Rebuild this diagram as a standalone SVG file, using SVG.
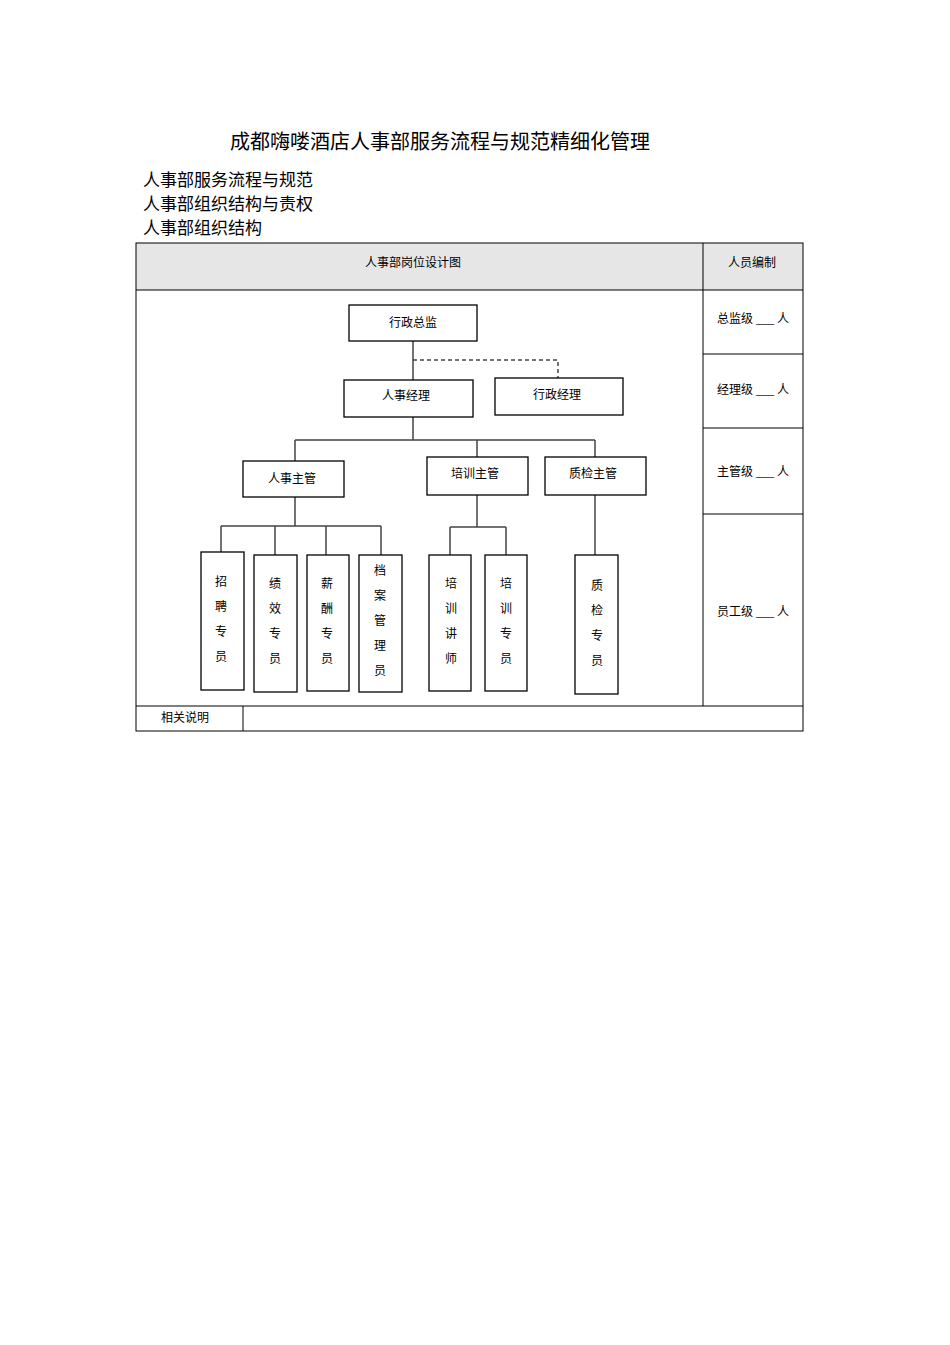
<svg xmlns="http://www.w3.org/2000/svg" width="950" height="1345" viewBox="0 0 950 1345">
<style>
text{font-family:"Liberation Serif","Noto Sans CJK SC",serif;fill:#000}
.t{font-size:12px;text-anchor:middle}
.b{fill:#fff;stroke:#000;stroke-width:1.3}
.c{fill:none;stroke:#444;stroke-width:1.5}
.g{fill:none;stroke:#000;stroke-width:1}
</style>
<rect width="950" height="1345" fill="#fff"/>
<text x="440" y="149" font-size="20" text-anchor="middle">成都嗨喽酒店人事部服务流程与规范精细化管理</text>
<text x="143" y="186" font-size="17">人事部服务流程与规范</text>
<text x="143" y="210" font-size="17">人事部组织结构与责权</text>
<text x="143" y="234" font-size="17">人事部组织结构</text>
<g id="table">
<rect x="136" y="243" width="667" height="47" fill="#e6e6e6"/>
<rect x="136" y="243" width="667" height="488" class="g"/>
<line x1="136" y1="290" x2="803" y2="290" class="g"/>
<line x1="703" y1="243" x2="703" y2="706" class="g"/>
<line x1="703" y1="354" x2="803" y2="354" class="g"/>
<line x1="703" y1="428" x2="803" y2="428" class="g"/>
<line x1="703" y1="514" x2="803" y2="514" class="g"/>
<line x1="136" y1="706" x2="803" y2="706" class="g"/>
<line x1="243" y1="706" x2="243" y2="731" class="g"/>
<text x="413" y="267" class="t">人事部岗位设计图</text>
<text x="752" y="267" class="t">人员编制</text>
<text x="753" y="323" class="t">总监级 ___ 人</text>
<text x="753" y="394" class="t">经理级 ___ 人</text>
<text x="753" y="476" class="t">主管级 ___ 人</text>
<text x="753" y="616" class="t">员工级 ___ 人</text>
<text x="185" y="722" class="t">相关说明</text>
</g>
<g id="connectors">
<path class="c" d="M413 341V440M295 440H595M295 440V461M477 440V457M595 440V457"/>
<path d="M413 360H558V378" fill="none" stroke="#444" stroke-width="1.5" stroke-dasharray="4,3"/>
<path class="c" d="M295 497V526M221 526H381M221 526V552M275 526V555M326 526V555M381 526V555"/>
<path class="c" d="M477 495V527M450 527H506M450 527V555M506 527V555"/>
<path class="c" d="M595 495V558"/>
</g>
<g id="n1"><rect class="b" x="349" y="305" width="128" height="36"/><text x="413" y="327" class="t">行政总监</text></g>
<g id="n2"><rect class="b" x="344" y="380" width="129" height="37"/><text x="406" y="400" class="t">人事经理</text></g>
<g id="n3"><rect class="b" x="495" y="378" width="128" height="37"/><text x="557" y="399" class="t">行政经理</text></g>
<g id="n4"><rect class="b" x="243" y="461" width="101" height="36"/><text x="292" y="483" class="t">人事主管</text></g>
<g id="n5"><rect class="b" x="427" y="457" width="101" height="38"/><text x="475" y="478" class="t">培训主管</text></g>
<g id="n6"><rect class="b" x="545" y="457" width="101" height="38"/><text x="593" y="478" class="t">质检主管</text></g>
<g id="n7"><rect class="b" x="201" y="552" width="43" height="138"/><text class="t" x="221"><tspan x="221" y="586">招</tspan><tspan x="221" y="611">聘</tspan><tspan x="221" y="636">专</tspan><tspan x="221" y="661">员</tspan></text></g>
<g id="n8"><rect class="b" x="254" y="555" width="43" height="137"/><text class="t"><tspan x="275" y="588">绩</tspan><tspan x="275" y="613">效</tspan><tspan x="275" y="638">专</tspan><tspan x="275" y="663">员</tspan></text></g>
<g id="n9"><rect class="b" x="307" y="555" width="42" height="136"/><text class="t"><tspan x="327" y="588">薪</tspan><tspan x="327" y="613">酬</tspan><tspan x="327" y="638">专</tspan><tspan x="327" y="663">员</tspan></text></g>
<g id="n10"><rect class="b" x="359" y="555" width="43" height="137"/><text class="t"><tspan x="380" y="575">档</tspan><tspan x="380" y="600">案</tspan><tspan x="380" y="625">管</tspan><tspan x="380" y="650">理</tspan><tspan x="380" y="675">员</tspan></text></g>
<g id="n11"><rect class="b" x="429" y="555" width="42" height="136"/><text class="t"><tspan x="451" y="588">培</tspan><tspan x="451" y="613">训</tspan><tspan x="451" y="638">讲</tspan><tspan x="451" y="663">师</tspan></text></g>
<g id="n12"><rect class="b" x="485" y="555" width="42" height="136"/><text class="t"><tspan x="506" y="588">培</tspan><tspan x="506" y="613">训</tspan><tspan x="506" y="638">专</tspan><tspan x="506" y="663">员</tspan></text></g>
<g id="n13"><rect class="b" x="575" y="555" width="43" height="139"/><text class="t"><tspan x="597" y="590">质</tspan><tspan x="597" y="615">检</tspan><tspan x="597" y="640">专</tspan><tspan x="597" y="665">员</tspan></text></g>
</svg>
